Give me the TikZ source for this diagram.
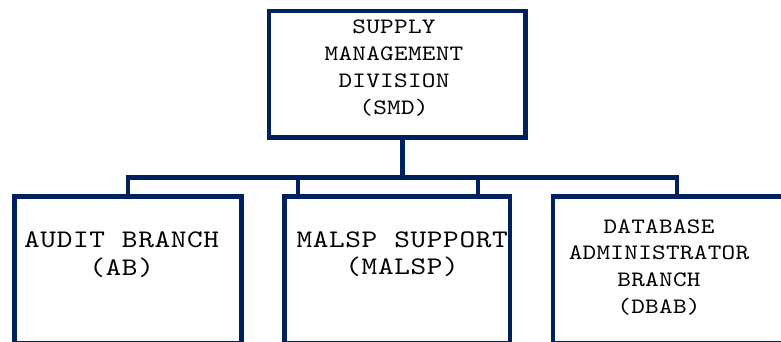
\documentclass[tikz,border=0pt]{standalone}
\usepackage{fontspec}
\definecolor{orgnavy}{RGB}{0,32,96}
% typewriter face, widened
\newfontfamily\capfont{lmmono10-regular}[Extension=.otf, FakeStretch=1.18]

% set a word on a fixed character grid (~ stands for a blank cell)
\makeatletter
\newcommand{\cellrow}[2]{\@tfor\cell@ch:=#2\do{\makebox[#1]{\cell@ch}}}
\makeatother
\newcommand{\gridsm}[1]{\cellrow{13.9pt}{#1}}
\newcommand{\gridlg}[1]{\cellrow{16.3pt}{#1}}

\begin{document}
\begin{tikzpicture}[x=1pt, y=-1pt,
  unit/.style={draw=orgnavy, line width=4.5pt, rectangle, inner sep=0pt, outer sep=0pt},
  link/.style={draw=orgnavy, line width=4.5pt},
  smalltext/.style={font=\capfont\fontsize{22}{27}\selectfont, align=center,
    text width=250pt, inner sep=0pt, anchor=base},
  largetext/.style={font=\capfont\fontsize{25.3}{27.5}\selectfont, align=center,
    text width=230pt, inner sep=0pt, anchor=base}]
\useasboundingbox (0,0) rectangle (781,341);
\clip (0,0) rectangle (781,341);

% division box and its three branches
\node[unit, minimum width=256.5, minimum height=126.5] (smd) at (397.25,74.25) {};
\node[unit, minimum width=227, minimum height=146.6] (ab) at (128.2,270) {};
\node[unit, minimum width=225.3, minimum height=146.6] (malsp) at (397.35,270) {};
\node[unit, minimum width=248, minimum height=146.6] (dbab) at (677,270) {};

% box captions
\node[smalltext] (smdtext) at (394,33)
  {\gridsm{SUPPLY}\\\gridsm{MANAGEMENT}\\\gridsm{DIVISION}\\\gridsm{(SMD)}};
\node[largetext] (abtext) at (121.7,247.5) {\gridlg{AUDIT~BRANCH}\\\gridlg{(AB)}};
\node[largetext] (malsptext) at (402.2,247) {\gridlg{MALSP~SUPPORT}\\\gridlg{(MALSP)}};
\node[smalltext, font=\capfont\fontsize{22}{26.7}\selectfont] (dbabtext) at (659,233)
  {\gridsm{DATABASE}\\\gridsm{ADMINISTRATOR}\\\gridsm{BRANCH}\\\gridsm{(DBAB)}};

% connector bus
\coordinate (hub) at (402.5,177.5);
\coordinate (smdfoot) at (402.5,0 |- smd.south);
\coordinate (ms1) at (298,0 |- malsp.north);
\coordinate (ms2) at (478,0 |- malsp.north);
\draw[link] (smdfoot) -- (hub);
\draw[link] (ab.north) -- (ab.north |- hub) -- (dbab.north |- hub) -- (dbab.north);
\draw[link] (ms1) -- (ms1 |- hub);
\draw[link] (ms2) -- (ms2 |- hub);
\end{tikzpicture}
\end{document}
